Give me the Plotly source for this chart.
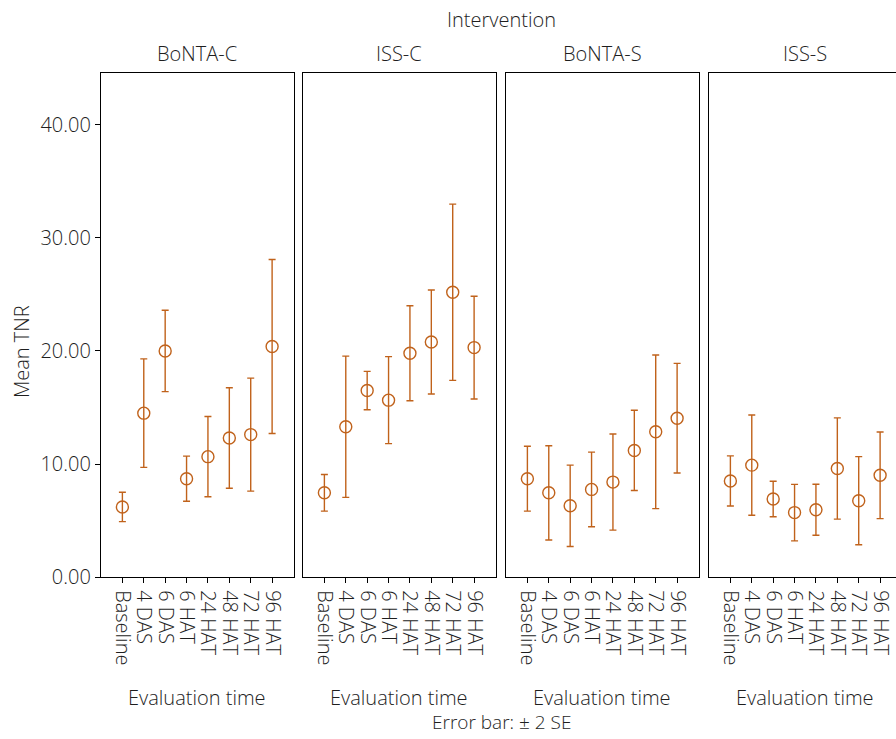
import plotly.graph_objects as go

interventions = ["BoNTA-C", "ISS-C", "BoNTA-S", "ISS-S"]
times = ["Baseline", "4 DAS", "6 DAS", "6 HAT", "24 HAT", "48 HAT", "72 HAT", "96 HAT"]

mean_bonta_c = [6.2, 14.5, 20.0, 8.7, 10.65, 12.3, 12.6, 20.4]
err_bonta_c = [1.3, 4.8, 3.6, 2.0, 3.55, 4.45, 5.0, 7.7]
mean_iss_c = [7.45, 13.3, 16.5, 15.65, 19.8, 20.8, 25.2, 20.3]
err_iss_c = [1.62, 6.25, 1.7, 3.85, 4.2, 4.6, 7.8, 4.55]
mean_bonta_s = [8.7, 7.45, 6.3, 7.75, 8.4, 11.2, 12.85, 14.05]
err_bonta_s = [2.87, 4.17, 3.6, 3.3, 4.25, 3.55, 6.8, 4.85]
mean_iss_s = [8.5, 9.9, 6.9, 5.7, 5.95, 9.6, 6.75, 9.0]
err_iss_s = [2.22, 4.44, 1.57, 2.5, 2.26, 4.48, 3.9, 3.83]

means = [mean_bonta_c, mean_iss_c, mean_bonta_s, mean_iss_s]
errs = [err_bonta_c, err_iss_c, err_bonta_s, err_iss_s]

y_ticks = [0, 10, 20, 30, 40]
y_range = [0, 44.6]

W, H = 905, 739
ML, MR, MT, MB = 101, 3, 73, 162
pw = W - ML - MR
plot_h = H - MT - MB
panel_starts = [101, 303, 506, 709]
panel_w = 192.5

COLOR = "#c0621b"
FONT = "Open Sans"
TXT = "#1e1e1e"
FS = 20


def tfont(size=FS):
    return dict(family=FONT, size=size, color=TXT, weight=300)


fig = go.Figure()
for i, name in enumerate(interventions):
    ax = "" if i == 0 else str(i + 1)
    fig.add_trace(go.Scatter(
        x=times, y=means[i],
        mode="markers",
        marker=dict(symbol="circle-open", size=12, color=COLOR, line=dict(width=1.4, color=COLOR)),
        error_y=dict(type="data", array=errs[i], visible=True, color=COLOR, thickness=1.4, width=3.5),
        xaxis="x" + ax, yaxis="y" + ax, showlegend=False, cliponaxis=False,
    ))
    x0 = (panel_starts[i] - ML) / pw
    x1 = (panel_starts[i] + panel_w - ML) / pw
    xa = dict(
        domain=[x0, x1], type="category", categoryorder="array", categoryarray=times,
        tickmode="array", tickvals=times, ticktext=times,
        range=[-1, 8], showline=True, mirror=True, linecolor="black", linewidth=1.3,
        ticks="outside", ticklen=5, tickwidth=1.2, tickcolor="black", tickangle=90,
        ticklabelstandoff=3,
        showgrid=False, zeroline=False, anchor="y" + ax,
        tickfont=tfont(),
    )
    ya = dict(
        range=y_range, showline=True, mirror=True, linecolor="black", linewidth=1.3,
        showgrid=False, zeroline=False, anchor="x" + ax,
        tickmode="array", tickvals=y_ticks, ticktext=[f"{v:.2f}" for v in y_ticks],
        ticks="outside" if i == 0 else "", ticklen=5, tickwidth=1.2, tickcolor="black",
        showticklabels=(i == 0), domain=[0, 1],
        tickfont=tfont(),
    )
    if i > 0:
        ya["matches"] = "y"
    fig.update_layout(**{"xaxis" + ax: xa, "yaxis" + ax: ya})
    cx = (x0 + x1) / 2
    fig.add_annotation(x=cx, y=1, xref="paper", yref="paper", xanchor="center", yanchor="bottom",
                       yshift=4, text=name, showarrow=False, font=tfont())
    fig.add_annotation(x=cx, y=(H - 697 - MB) / plot_h, xref="paper", yref="paper",
                       xanchor="center", yanchor="middle", text="Evaluation time",
                       showarrow=False, font=tfont())

fig.add_annotation(x=0.5, y=(H - 20 - MB) / plot_h, xref="paper", yref="paper",
                   xanchor="center", yanchor="middle",
                   text="Intervention", showarrow=False, font=tfont())
fig.add_annotation(x=0.5, y=(H - 722 - MB) / plot_h, xref="paper", yref="paper",
                   xanchor="center", yanchor="middle",
                   text="Error bar: ± 2 SE", showarrow=False, font=tfont(19))
fig.add_annotation(x=(21 - ML) / pw, y=(577 - 352) / plot_h, xref="paper", yref="paper",
                   xanchor="center", yanchor="middle",
                   text="Mean TNR", textangle=-90, showarrow=False, font=tfont())

fig.update_layout(
    width=W, height=H,
    margin=dict(l=ML, r=MR, t=MT, b=MB),
    paper_bgcolor="white", plot_bgcolor="white",
    font=tfont(),
)

fig.write_html(
    "out.html",
    config={"displayModeBar": False},
    post_script="document.body.style.margin='0';document.body.style.overflow='hidden';"
                "document.documentElement.style.overflow='hidden';",
)
